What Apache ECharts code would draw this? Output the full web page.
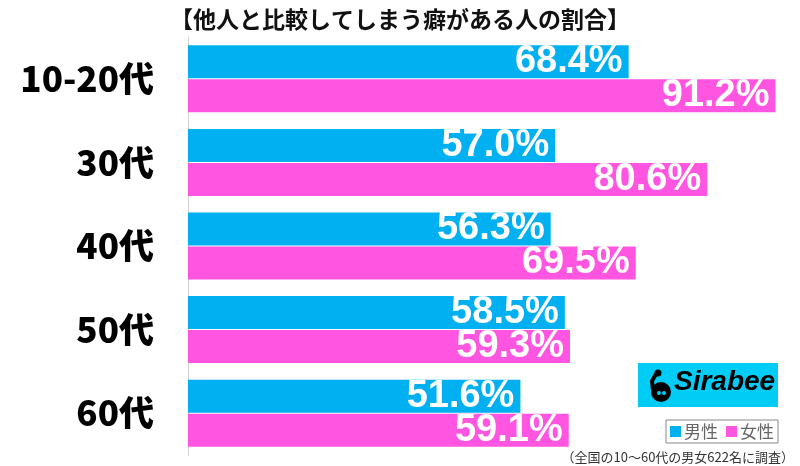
<!DOCTYPE html>
<html><head><meta charset="utf-8">
<script src="https://cdn.jsdelivr.net/npm/echarts@6/dist/echarts.min.js"></script>
<style>html,body{margin:0;padding:0;background:#fff}#c{width:800px;height:466px}</style>
</head><body><div id="c"></div>
<script>
const categories = ['10-20代', '30代', '40代', '50代', '60代'];
const maleValues = [68.4, 57.0, 56.3, 58.5, 51.6];
const femaleValues = [91.2, 80.6, 69.5, 59.3, 59.1];
const seriesNames = ['男性', '女性'];
const titleText = '【他人と比較してしまう癖がある人の割合】';
const noteText = '（全国の10〜60代の男女622名に調査）';

const chart = echarts.init(document.getElementById('c'));
const labelStyle = {
  show: true, position: 'insideRight', distance: 6,
  color: '#fff', fontSize: 38, fontWeight: 'bold',
  fontFamily: 'Liberation Sans, Arial, sans-serif',
  formatter: p => p.value.toFixed(1) + '%'
};
chart.setOption({
  animation: false,
  title: {
    text: titleText, left: 'center', top: 3,
    textStyle: { fontSize: 23, fontWeight: 'bold', color: '#111', fontFamily: 'Noto Sans CJK JP' }
  },
  grid: { left: 188, right: 0, top: 37, bottom: 11, containLabel: false },
  xAxis: { type: 'value', min: 0, max: 95, show: false },
  yAxis: {
    type: 'category', data: categories, inverse: true,
    axisLine: { show: true, lineStyle: { color: '#d0d0d0', width: 1 } },
    axisTick: { show: false },
    axisLabel: { margin: 34, color: '#000', fontSize: 35, fontWeight: 900, fontFamily: 'Noto Sans CJK JP' }
  },
  legend: {
    data: seriesNames, right: 22, top: 420, icon: 'rect', itemWidth: 11, itemHeight: 11, itemGap: 8,
    borderColor: '#888', borderWidth: 1, padding: [3, 4],
    textStyle: { fontSize: 17, color: '#666', fontFamily: 'Noto Sans CJK JP', padding: [0, 0, 0, -2] }
  },
  series: [
    { name: seriesNames[0], type: 'bar', data: maleValues, barWidth: 33, barGap: '3%',
      itemStyle: { color: '#00B0F0' }, label: labelStyle },
    { name: seriesNames[1], type: 'bar', data: femaleValues, barWidth: 33, barGap: '3%',
      itemStyle: { color: '#FF55E0' }, label: labelStyle }
  ],
  graphic: [
    { type: 'rect', left: 638, top: 363, shape: { width: 140, height: 44 }, style: { fill: '#00CCF5' } },
    { type: 'circle', shape: { cx: 661, cy: 392, r: 10 }, style: { fill: '#000' } },
    { type: 'polyline', shape: { points: [[653, 390], [652, 381], [656, 374]] }, style: { stroke: '#000', lineWidth: 4, fill: null } },
    { type: 'circle', shape: { cx: 658, cy: 373, r: 3.5 }, style: { fill: '#000' } },
    { type: 'circle', shape: { cx: 659, cy: 393, r: 2 }, style: { fill: '#00CCF5' } },
    { type: 'circle', shape: { cx: 664, cy: 393, r: 2 }, style: { fill: '#00CCF5' } },
    { type: 'text', left: 674, top: 368, style: { text: 'Sirabee', fill: '#000', font: 'italic bold 28px Liberation Sans, Arial, sans-serif' } },
    { type: 'text', right: 6, top: 451, style: { text: noteText, fill: '#333', font: '13px Noto Sans CJK JP' } }
  ]
});
</script></body></html>
